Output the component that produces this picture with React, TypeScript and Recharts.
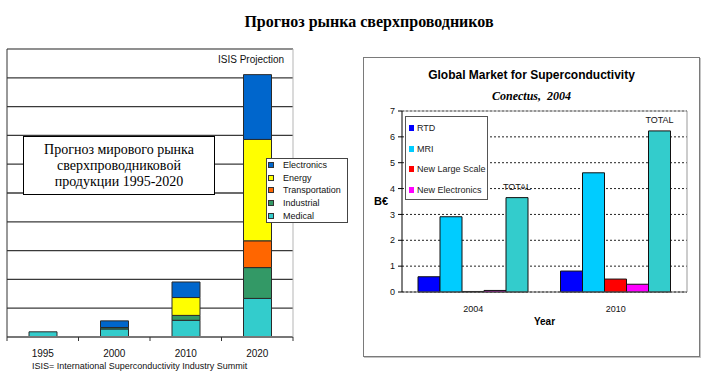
import { BarChart, Bar, XAxis, YAxis, CartesianGrid, Legend, LabelList } from 'recharts';

// ISIS projection (left chart), stacked segments per year
const isisYears = ['1995', '2000', '2010', '2020'];
const medical = [0.18, 0.28, 0.58, 1.34];
const industrial = [0, 0.05, 0.17, 1.07];
const transportation = [0, 0, 0, 0.93];
const energy = [0, 0, 0.62, 3.52];
const electronics = [0, 0.23, 0.54, 2.25];
const isisTicks = [0, 1, 2, 3, 4, 5, 6, 7, 8, 9];
const isisLegendOrder = ['Electronics', 'Energy', 'Transportation', 'Industrial', 'Medical'];

// Conectus 2004 (right chart), B€
const conectusYears = ['2004', '2010'];
const rtd = [0.59, 0.81];
const mri = [2.91, 4.61];
const newLargeScale = [0.02, 0.5];
const newElectronics = [0.06, 0.3];
const total = [3.65, 6.23];
const conectusTicks = [0, 1, 2, 3, 4, 5, 6, 7];
const conectusLegendOrder = ['RTD', 'MRI', 'New Large Scale', 'New Electronics'];

const isisData = isisYears.map((year, i) => ({
  year,
  Medical: medical[i],
  Industrial: industrial[i],
  Transportation: transportation[i],
  Energy: energy[i],
  Electronics: electronics[i],
}));

const conectusData = conectusYears.map((year, i) => ({
  year,
  RTD: rtd[i],
  MRI: mri[i],
  'New Large Scale': newLargeScale[i],
  'New Electronics': newElectronics[i],
  total: total[i],
}));

const SANS = '"Liberation Sans", Arial, sans-serif';
const SERIF = '"Liberation Serif", "Times New Roman", serif';

const pick = (payload: any[] | undefined, order: string[]) =>
  order
    .map((name) => (payload || []).find((p: any) => p.value === name))
    .filter(Boolean);

function IsisTick(props: any) {
  const { x, y, payload, index, visibleTicksCount } = props;
  const half = payload.offset ?? 0;
  const last = index === visibleTicksCount - 1;
  return (
    <g>
      <line x1={x - half} x2={x - half} y1={y} y2={y + 4} stroke="#333" />
      {last && <line x1={x + half} x2={x + half} y1={y} y2={y + 4} stroke="#333" />}
      <text x={x} y={y + 19.6} textAnchor="middle" fontSize={10} fontFamily={SANS} fill="#111">
        {payload.value}
      </text>
    </g>
  );
}

function IsisLegend({ payload }: any) {
  const items = pick(payload, isisLegendOrder);
  return (
    <div
      style={{
        width: 82,
        height: 65,
        boxSizing: 'border-box',
        border: '1px solid #444',
        background: '#fff',
        fontFamily: SANS,
        fontSize: 9,
        color: '#111',
      }}
    >
      {items.map((p: any) => (
        <div key={p.value} style={{ display: 'flex', alignItems: 'center', height: 12.6 }}>
          <span
            style={{
              display: 'inline-block',
              width: 4,
              height: 4,
              marginLeft: 1,
              marginRight: 9,
              border: '1px solid #333',
              background: p.color,
            }}
          />
          <span>{p.value}</span>
        </div>
      ))}
    </div>
  );
}

function ConectusLegend({ payload }: any) {
  const items = pick(payload, conectusLegendOrder);
  return (
    <div
      style={{
        width: 83,
        height: 84,
        boxSizing: 'border-box',
        border: '1px solid #555',
        background: '#fff',
        fontFamily: SANS,
        fontSize: 9,
        color: '#222',
        paddingTop: 1,
      }}
    >
      {items.map((p: any) => (
        <div key={p.value} style={{ display: 'flex', alignItems: 'center', height: 20.5 }}>
          <span
            style={{
              display: 'inline-block',
              width: 5,
              height: 6,
              marginLeft: 3,
              marginRight: 3,
              background: p.color,
            }}
          />
          <span>{p.value}</span>
        </div>
      ))}
    </div>
  );
}

export default function App() {
  return (
    <div
      style={{
        position: 'absolute',
        left: 0,
        top: 0,
        width: 708,
        height: 385,
        background: '#fff',
        overflow: 'hidden',
        fontFamily: SANS,
      }}
    >
      <div
        style={{
          position: 'absolute',
          left: 0,
          width: 738,
          top: 12,
          textAlign: 'center',
          fontFamily: SERIF,
          fontWeight: 'bold',
          fontSize: 16,
          lineHeight: '20px',
          color: '#000',
        }}
      >
        Прогноз рынка сверхпроводников
      </div>

      {/* left: ISIS projection */}
      <div style={{ position: 'absolute', left: 0, top: 0 }}>
        <BarChart
          width={355}
          height={385}
          data={isisData}
          margin={{ top: 48, right: 61, bottom: 18, left: 6 }}
          barSize={28}
        >
          <CartesianGrid vertical={false} stroke="#3a3a3a" strokeWidth={1.3} />
          <XAxis
            dataKey="year"
            height={30}
            axisLine={{ stroke: '#777', strokeWidth: 2 }}
            tickLine={false}
            tickSize={0}
            tickMargin={0}
            tick={<IsisTick />}
            interval={0}
          />
          <XAxis
            xAxisId="frame"
            dataKey="year"
            orientation="top"
            height={1}
            tick={false}
            tickLine={false}
            axisLine={{ stroke: '#b5b5b5' }}
          />
          <YAxis
            domain={[0, 10]}
            ticks={isisTicks}
            width={1}
            tick={() => null}
            tickLine={false}
            axisLine={{ stroke: '#333' }}
          />
          <YAxis
            yAxisId="frame"
            orientation="right"
            width={1}
            tick={false}
            tickLine={false}
            axisLine={{ stroke: '#b5b5b5' }}
          />
          <Legend
            layout="vertical"
            align="center"
            verticalAlign="middle"
            content={<IsisLegend />}
            wrapperStyle={{ left: 266, top: 158, width: 82 }}
          />
          <Bar dataKey="Medical" stackId="a" fill="#33CCCC" stroke="#2a2a2a" strokeWidth={1} isAnimationActive={false} />
          <Bar dataKey="Industrial" stackId="a" fill="#339966" stroke="#2a2a2a" strokeWidth={1} isAnimationActive={false} />
          <Bar dataKey="Transportation" stackId="a" fill="#FF6600" stroke="#2a2a2a" strokeWidth={1} isAnimationActive={false} />
          <Bar dataKey="Energy" stackId="a" fill="#FFFF00" stroke="#2a2a2a" strokeWidth={1} isAnimationActive={false} />
          <Bar dataKey="Electronics" stackId="a" fill="#0066CC" stroke="#2a2a2a" strokeWidth={1} isAnimationActive={false} />
        </BarChart>
      </div>

      <div
        style={{
          position: 'absolute',
          left: 218,
          top: 54,
          fontSize: 10,
          color: '#111',
          whiteSpace: 'nowrap',
        }}
      >
        ISIS Projection
      </div>

      <div
        style={{
          position: 'absolute',
          left: 23,
          top: 136,
          width: 192,
          height: 59,
          boxSizing: 'border-box',
          border: '1px solid #000',
          background: '#fff',
          display: 'flex',
          alignItems: 'center',
          justifyContent: 'center',
          textAlign: 'center',
          fontFamily: SERIF,
          fontSize: 14,
          lineHeight: '16px',
          color: '#000',
        }}
      >
        Прогноз мирового рынка
        <br />
        сверхпроводниковой
        <br />
        продукции 1995-2020
      </div>

      <div
        style={{
          position: 'absolute',
          left: 32,
          top: 361,
          fontSize: 9,
          color: '#111',
          whiteSpace: 'nowrap',
        }}
      >
        ISIS= International Superconductivity Industry Summit
      </div>

      {/* right: Conectus */}
      <div
        style={{
          position: 'absolute',
          left: 363,
          top: 57,
          width: 337,
          height: 300,
          boxSizing: 'border-box',
          border: '1px solid #7a7a7a',
          boxShadow: '1px 1px 0 #c4c4c4',
          background: '#fff',
        }}
      >
        <div
          style={{
            position: 'absolute',
            left: 0,
            width: 335,
            top: 9,
            textAlign: 'center',
            fontWeight: 'bold',
            fontSize: 12,
            lineHeight: '16px',
            color: '#000',
          }}
        >
          Global Market for Superconductivity
        </div>
        <div
          style={{
            position: 'absolute',
            left: 0,
            width: 335,
            top: 30,
            textAlign: 'center',
            fontFamily: SERIF,
            fontStyle: 'italic',
            fontWeight: 'bold',
            fontSize: 12,
            lineHeight: '16px',
            color: '#000',
            whiteSpace: 'pre',
          }}
        >
          {'Conectus,  2004'}
        </div>
        <BarChart
          width={335}
          height={298}
          data={conectusData}
          margin={{ top: 52, right: 11, bottom: 28, left: 10 }}
          barCategoryGap={16}
          barGap={0}
        >
          <CartesianGrid vertical={false} stroke="#222" strokeDasharray="2 2" />
          <XAxis
            dataKey="year"
            height={36}
            axisLine={{ stroke: '#555' }}
            tickLine={false}
            tickSize={0}
            tickMargin={14}
            tick={{ fontSize: 9, fill: '#111', fontFamily: SANS }}
            label={{ value: 'Year', position: 'insideBottom', offset: 3, fontSize: 10, fontWeight: 'bold', fill: '#000', fontFamily: SANS }}
          />
          <XAxis
            xAxisId="frame"
            dataKey="year"
            orientation="top"
            height={1}
            tick={false}
            tickLine={false}
            axisLine={{ stroke: '#999' }}
          />
          <YAxis
            domain={[0, 7]}
            ticks={conectusTicks}
            width={28}
            tickSize={4}
            tickMargin={3}
            axisLine={{ stroke: '#000' }}
            tickLine={{ stroke: '#000' }}
            tick={{ fontSize: 9, fill: '#111', fontFamily: SANS }}
            label={{ value: 'B€', position: 'insideLeft', offset: 0, fontSize: 11, fontWeight: 'bold', fill: '#000', fontFamily: SANS }}
          />
          <YAxis
            yAxisId="frame"
            orientation="right"
            width={1}
            tick={false}
            tickLine={false}
            axisLine={{ stroke: '#999' }}
          />
          <Legend
            layout="vertical"
            align="center"
            verticalAlign="middle"
            content={<ConectusLegend />}
            wrapperStyle={{ left: 41, top: 58, width: 83 }}
          />
          <Bar dataKey="RTD" fill="#0000FF" stroke="#111" strokeWidth={1} isAnimationActive={false} />
          <Bar dataKey="MRI" fill="#00CCFF" stroke="#111" strokeWidth={1} isAnimationActive={false} />
          <Bar dataKey="New Large Scale" fill="#FF0000" stroke="#111" strokeWidth={1} isAnimationActive={false} />
          <Bar dataKey="New Electronics" fill="#FF00FF" stroke="#111" strokeWidth={1} isAnimationActive={false} />
          <Bar dataKey="total" fill="#33CCCC" stroke="#111" strokeWidth={1} isAnimationActive={false}>
            <LabelList
              dataKey="total"
              position="top"
              offset={8}
              formatter={() => 'TOTAL'}
              fontSize={9}
              fill="#111"
              fontFamily={SANS}
            />
          </Bar>
        </BarChart>
      </div>
    </div>
  );
}
